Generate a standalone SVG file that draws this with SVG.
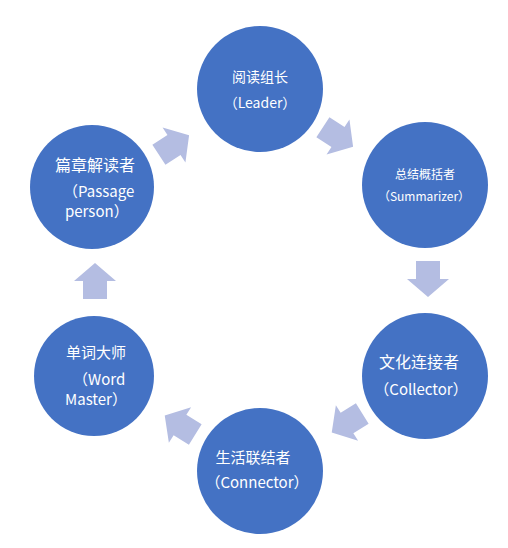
<svg xmlns="http://www.w3.org/2000/svg" width="508" height="548" viewBox="0 0 508 548">
<style>
.c{fill:#4472c4;}
.t{fill:#ffffff;font-family:"Noto Sans CJK SC","Noto Sans",sans-serif;}
.a{fill:#b4bde2;}
</style>
<defs>
<path id="arr" d="M-18,-12 L0,-12 L0,-21 L18,0 L0,21 L0,12 L-18,12 Z"/>
</defs>
<rect width="508" height="548" fill="#ffffff"/>
<g id="connectors">
<use href="#arr" class="a" transform="translate(174,145) rotate(-33)"/>
<use href="#arr" class="a" transform="translate(338,137) rotate(33)"/>
<use href="#arr" class="a" transform="translate(428,279) rotate(90)"/>
<use href="#arr" class="a" transform="translate(347,423) rotate(148)"/>
<use href="#arr" class="a" transform="translate(180,425) rotate(-148)"/>
<use href="#arr" class="a" transform="translate(95,281) rotate(-90)"/>
</g>
<g id="leader">
<circle class="c" cx="260" cy="89" r="63"/>
<text class="t" x="260" y="82" font-size="14" text-anchor="middle">阅读组长</text>
<text class="t" x="260" y="108" font-size="14" text-anchor="middle">（Leader）</text>
</g>
<g id="summarizer">
<circle class="c" cx="425" cy="185" r="63"/>
<text class="t" x="425" y="179" font-size="12" text-anchor="middle">总结概括者</text>
<text class="t" x="424" y="201" font-size="12" text-anchor="middle">（Summarizer）</text>
</g>
<g id="collector">
<circle class="c" cx="425" cy="376" r="63"/>
<text class="t" x="419" y="368" font-size="16" text-anchor="middle">文化连接者</text>
<text class="t" x="421" y="395" font-size="15" text-anchor="middle">（Collector）</text>
</g>
<g id="connector">
<circle class="c" cx="260" cy="471" r="63"/>
<text class="t" x="253" y="463" font-size="15" text-anchor="middle">生活联结者</text>
<text class="t" x="257" y="488" font-size="15" text-anchor="middle">（Connector）</text>
</g>
<g id="wordmaster">
<circle class="c" cx="94" cy="376" r="60"/>
<text class="t" x="96" y="358" font-size="15" text-anchor="middle">单词大师</text>
<text class="t" x="73" y="385" font-size="15">（Word</text>
<text class="t" x="65" y="405" font-size="15">Master）</text>
</g>
<g id="passage">
<circle class="c" cx="92" cy="187" r="62"/>
<text class="t" x="95" y="171" font-size="16" text-anchor="middle">篇章解读者</text>
<text class="t" x="63" y="197" font-size="15">（Passage</text>
<text class="t" x="65" y="217" font-size="15">person）</text>
</g>
</svg>
